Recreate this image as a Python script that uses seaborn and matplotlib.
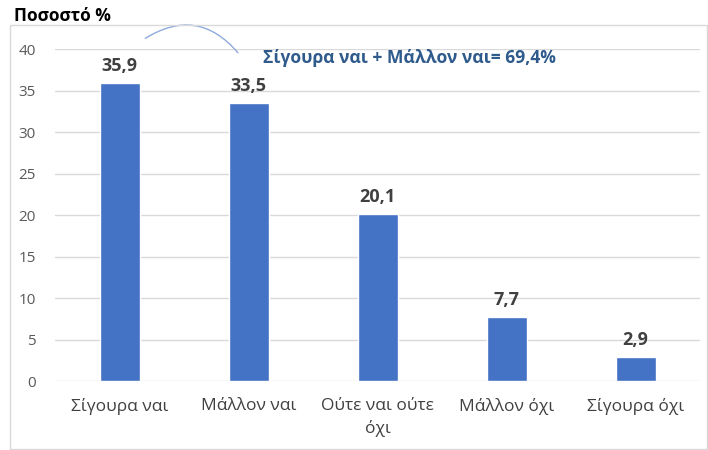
import matplotlib.pyplot as plt
import matplotlib.patches as mpatches
import seaborn as sns
import pandas as pd

categories = ['Σίγουρα ναι', 'Μάλλον ναι', 'Ούτε ναι ούτε\nόχι', 'Μάλλον όχι', 'Σίγουρα όχι']
values = [35.9, 33.5, 20.1, 7.7, 2.9]
value_labels = ['35,9', '33,5', '20,1', '7,7', '2,9']
yticks = [0, 5, 10, 15, 20, 25, 30, 35, 40]
note = 'Σίγουρα ναι + Μάλλον ναι= 69,4%'

sns.set_style('white')
plt.rcParams['font.family'] = ['Open Sans', 'DejaVu Sans']

df = pd.DataFrame({'cat': categories, 'val': values})

fig = plt.figure(figsize=(7.08, 4.5), dpi=100)
ax = fig.add_axes([0.078, 0.153, 0.911, 0.738])

# outer chart frame
fig.patches.append(mpatches.Rectangle((0.014, 0.002), 0.984, 0.943, transform=fig.transFigure,
                                      fill=False, edgecolor='#d9d9d9', linewidth=1))

sns.barplot(data=df, x='cat', y='val', color='#4472C4', width=0.31, saturation=1, ax=ax, zorder=3)
ax.set_ylim(0, 40)
ax.set_xlim(-0.5, len(categories) - 0.5)
ax.set_yticks(yticks)
ax.yaxis.grid(True, color='#d9d9d9', linewidth=1, zorder=0)
ax.set_axisbelow(True)
for s in ax.spines.values():
    s.set_visible(False)
ax.tick_params(axis='y', length=0, colors='#595959', labelsize=11, pad=14)
ax.tick_params(axis='x', length=0, labelsize=12.5, colors='#404040', pad=12)
for lbl in ax.get_xticklabels():
    lbl.set_linespacing(1.45)
ax.set_xlabel('')
ax.set_ylabel('')

ax.bar_label(ax.containers[0], labels=value_labels, padding=6, fontsize=13,
             fontweight='bold', color='#404040')

fig.text(0.02, 0.965, 'Ποσοστό %', fontsize=12.5, fontweight='bold', color='black', va='center')

# bracket arc
arc = mpatches.FancyArrowPatch((0.18, 41.1), (0.93, 39.3), connectionstyle='arc3,rad=-0.45',
                               arrowstyle='-', color='#8faadc', linewidth=1, clip_on=False)
ax.add_patch(arc)
ax.text(1.11, 38.9, note, fontsize=12.6, fontweight='bold', color='#2e5a8c', ha='left', va='center')

fig.savefig('out.png', dpi=100)
